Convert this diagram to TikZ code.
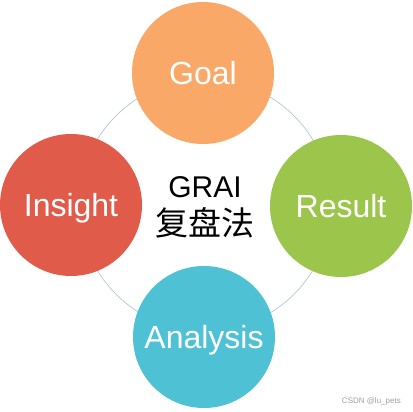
\documentclass[tikz,border=0pt]{standalone}
\usepackage{fontspec}
\setmainfont{Liberation Sans}
\newfontfamily\cjkfont{Noto Sans CJK SC}
\usepackage{tikz}
\usetikzlibrary{positioning}
\definecolor{goalorange}{HTML}{F9A867}
\definecolor{resultgreen}{HTML}{9BC54B}
\definecolor{insightred}{HTML}{E05B49}
\definecolor{analysisblue}{HTML}{4FC1D5}
\definecolor{ringgray}{HTML}{B3C6D0}

\begin{document}
\begin{tikzpicture}[x=1pt,y=-1pt,
  stage/.style={circle, inner sep=0pt, minimum size=142pt, text=white,
    text height=23pt, text depth=0pt, font=\fontsize{32}{36}\selectfont}]
  \useasboundingbox (0,0) rectangle (412,412);
  % ring behind the stages
  \node[circle, draw=ringgray, line width=0.7pt, minimum size=252pt, inner sep=0pt] (ring) at (205,205) {};

  % four stages
  \node[stage, fill=goalorange] (goal) at (203,73) {Goal};
  \node[stage, fill=resultgreen] (result) at (341,206) {Result};
  \node[stage, fill=analysisblue] (analysis) at (204,337) {Analysis};
  \node[stage, fill=insightred] (insight) at (71,205) {Insight};

  % centre title
  \node[inner sep=0pt, anchor=base, font=\fontsize{30}{34}\selectfont] (grai) at (205,197) {GRAI};
  \node[inner sep=0pt, below=10pt of grai, font=\fontsize{33}{36}\selectfont\cjkfont] (fupan) {复盘法};

  % watermark
  \node[inner sep=0pt, anchor=base east, text=gray!75, font=\fontsize{8}{9}\selectfont] (mark) at (401,403) {CSDN @lu\_pets};
\end{tikzpicture}
\end{document}
